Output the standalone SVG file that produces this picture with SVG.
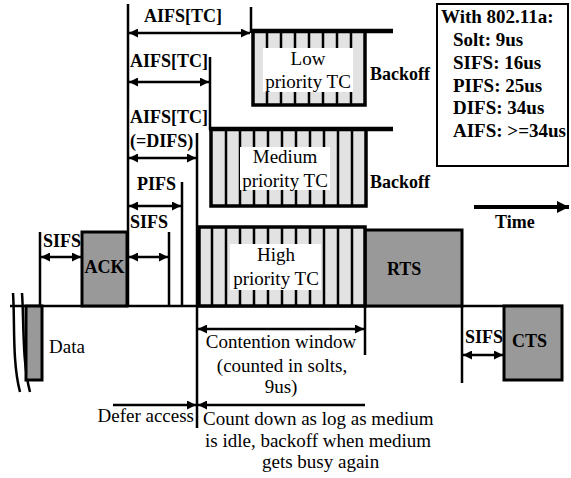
<svg xmlns="http://www.w3.org/2000/svg" width="571" height="478" viewBox="0 0 571 478">
<style>
text{font-family:"Liberation Serif","Times New Roman",serif;fill:#000}
.b{font-weight:bold;font-size:18px}
.lg{font-weight:bold;font-size:19px}
.r{font-size:19px}
.ln{stroke:#000;stroke-width:2.5;fill:none}
.arr{stroke:#000;stroke-width:2.5;fill:none;marker-start:url(#ah);marker-end:url(#ah)}
.arr1{stroke:#000;stroke-width:2.5;fill:none;marker-end:url(#ah)}
.pkt{fill:#999;stroke:#000;stroke-width:3}
.cw{fill:#e2e2e2;stroke:#000;stroke-width:3.5}
.st{stroke:#000;stroke-width:2.5}
.lbl{fill:#fff}
</style>
<defs>
<marker id="ah" viewBox="0 0 10 10" refX="10" refY="5" markerWidth="12" markerHeight="9" markerUnits="userSpaceOnUse" orient="auto-start-reverse"><path d="M0,0 L10,5 L0,10 z" fill="#000"/></marker>
<marker id="ahT" viewBox="0 0 10 10" refX="10" refY="5" markerWidth="14" markerHeight="12" markerUnits="userSpaceOnUse" orient="auto"><path d="M0,0 L10,5 L0,10 z" fill="#000"/></marker>
</defs>

<g id="connectors">
<line class="ln" x1="10" y1="306" x2="563" y2="306"/>
<path class="ln" d="M13 293 C15 320 12 362 20 392"/>
<path class="ln" d="M22 293 C24 320 22 362 30 392"/>
<line class="ln" x1="128" y1="4" x2="128" y2="306"/>
<line class="ln" x1="251" y1="7" x2="251" y2="33"/>
<line class="ln" x1="210" y1="57" x2="210" y2="130"/>
<line class="ln" x1="197" y1="133" x2="197" y2="428"/>
<line class="ln" x1="182" y1="182" x2="182" y2="306"/>
<line class="ln" x1="169" y1="232" x2="169" y2="306"/>
<line class="ln" x1="40" y1="232" x2="40" y2="306"/>
<line class="ln" x1="365" y1="306" x2="365" y2="355"/>
<line class="ln" x1="462" y1="306" x2="462" y2="383"/>
<line class="arr" x1="129" y1="33" x2="250" y2="33"/>
<line class="arr" x1="129" y1="82" x2="209" y2="82"/>
<line class="arr" x1="129" y1="158" x2="196" y2="158"/>
<line class="arr" x1="129" y1="206" x2="181" y2="206"/>
<line class="arr" x1="129" y1="257" x2="168" y2="257"/>
<line class="arr" x1="41" y1="257" x2="81" y2="257"/>
<line class="arr" x1="198" y1="329" x2="364" y2="329"/>
<line class="arr1" x1="365" y1="405" x2="198" y2="405"/>
<line class="arr1" x1="113" y1="405" x2="196" y2="405"/>
<line class="arr" x1="463" y1="355" x2="503" y2="355"/>
<line stroke="#000" stroke-width="4" x1="474" y1="207" x2="569" y2="207" marker-end="url(#ahT)"/>
</g>

<g id="data"><rect class="pkt" x="26" y="306" width="16" height="74"/><text class="r" x="49" y="353">Data</text></g>
<g id="ack"><rect class="pkt" x="82" y="232" width="45" height="74"/><text class="b" x="104.5" y="273" text-anchor="middle">ACK</text></g>
<g id="rts"><rect class="pkt" x="365" y="230" width="97" height="76"/><text class="b" x="387" y="275">RTS</text></g>
<g id="cts"><rect class="pkt" x="504" y="306" width="58" height="74"/><text class="b" x="512" y="347">CTS</text></g>

<g id="low">
<rect class="cw" x="253" y="31" width="112" height="74"/>
<line stroke="#000" stroke-width="4.5" x1="251" y1="31" x2="393" y2="31"/>
<g class="st"><line x1="267" y1="31" x2="267" y2="105"/><line x1="281" y1="31" x2="281" y2="105"/><line x1="295" y1="31" x2="295" y2="105"/><line x1="309" y1="31" x2="309" y2="105"/><line x1="323" y1="31" x2="323" y2="105"/><line x1="337" y1="31" x2="337" y2="105"/><line x1="351" y1="31" x2="351" y2="105"/></g>
<rect class="lbl" x="263" y="48" width="90" height="44"/>
<text class="r" x="308" y="65" text-anchor="middle">Low</text>
<text class="r" x="308" y="88" text-anchor="middle">priority TC</text>
<text class="b" x="370" y="80">Backoff</text>
</g>

<g id="medium">
<rect class="cw" x="211" y="129" width="155" height="77"/>
<line stroke="#000" stroke-width="4.5" x1="209" y1="129" x2="393" y2="129"/>
<g class="st"><line x1="226" y1="129" x2="226" y2="206"/><line x1="240" y1="129" x2="240" y2="206"/><line x1="254" y1="129" x2="254" y2="206"/><line x1="268" y1="129" x2="268" y2="206"/><line x1="282" y1="129" x2="282" y2="206"/><line x1="296" y1="129" x2="296" y2="206"/><line x1="310" y1="129" x2="310" y2="206"/><line x1="324" y1="129" x2="324" y2="206"/><line x1="338" y1="129" x2="338" y2="206"/><line x1="352" y1="129" x2="352" y2="206"/></g>
<rect class="lbl" x="240" y="147" width="90" height="43"/>
<text class="r" x="285" y="163" text-anchor="middle">Medium</text>
<text class="r" x="285" y="187" text-anchor="middle">priority TC</text>
<text class="b" x="370" y="188">Backoff</text>
</g>

<g id="high">
<rect class="cw" x="199" y="227" width="166" height="79"/>
<g class="st"><line x1="212" y1="227" x2="212" y2="306"/><line x1="226" y1="227" x2="226" y2="306"/><line x1="240" y1="227" x2="240" y2="306"/><line x1="254" y1="227" x2="254" y2="306"/><line x1="268" y1="227" x2="268" y2="306"/><line x1="282" y1="227" x2="282" y2="306"/><line x1="296" y1="227" x2="296" y2="306"/><line x1="310" y1="227" x2="310" y2="306"/><line x1="324" y1="227" x2="324" y2="306"/><line x1="338" y1="227" x2="338" y2="306"/><line x1="352" y1="227" x2="352" y2="306"/></g>
<rect class="lbl" x="230" y="244" width="91" height="46"/>
<text class="r" x="276" y="261" text-anchor="middle">High</text>
<text class="r" x="276" y="285" text-anchor="middle">priority TC</text>
</g>

<g id="legend">
<rect x="437" y="4" width="131" height="162" fill="#fff" stroke="#000" stroke-width="2"/>
<text class="lg" x="441" y="23" font-size="20">With 802.11a:</text>
<text class="lg" x="453" y="46">Solt: 9us</text>
<text class="lg" x="453" y="69">SIFS: 16us</text>
<text class="lg" x="453" y="92">PIFS: 25us</text>
<text class="lg" x="453" y="114">DIFS: 34us</text>
<text class="lg" x="453" y="137">AIFS: &gt;=34us</text>
</g>

<g id="labels">
<text class="b" x="144" y="22">AIFS[TC]</text>
<text class="b" x="130" y="67">AIFS[TC]</text>
<text class="b" x="130" y="123">AIFS[TC]</text>
<text class="b" x="130" y="147">(=DIFS)</text>
<text class="b" x="137" y="190">PIFS</text>
<text class="b" x="130" y="228">SIFS</text>
<text class="b" x="43" y="247">SIFS</text>
<text class="b" x="465" y="343">SIFS</text>
<text class="b" x="495" y="228">Time</text>
<text class="r" x="194" y="422" text-anchor="end">Defer access</text>
<text class="r" x="281" y="348" text-anchor="middle">Contention window</text>
<text class="r" x="282" y="372" text-anchor="middle">(counted in solts,</text>
<text class="r" x="281" y="393" text-anchor="middle">9us)</text>
<text class="r" x="203" y="425">Count down as log as medium</text>
<text class="r" x="205" y="447">is idle, backoff when medium</text>
<text class="r" x="262" y="468">gets busy again</text>
</g>
</svg>
